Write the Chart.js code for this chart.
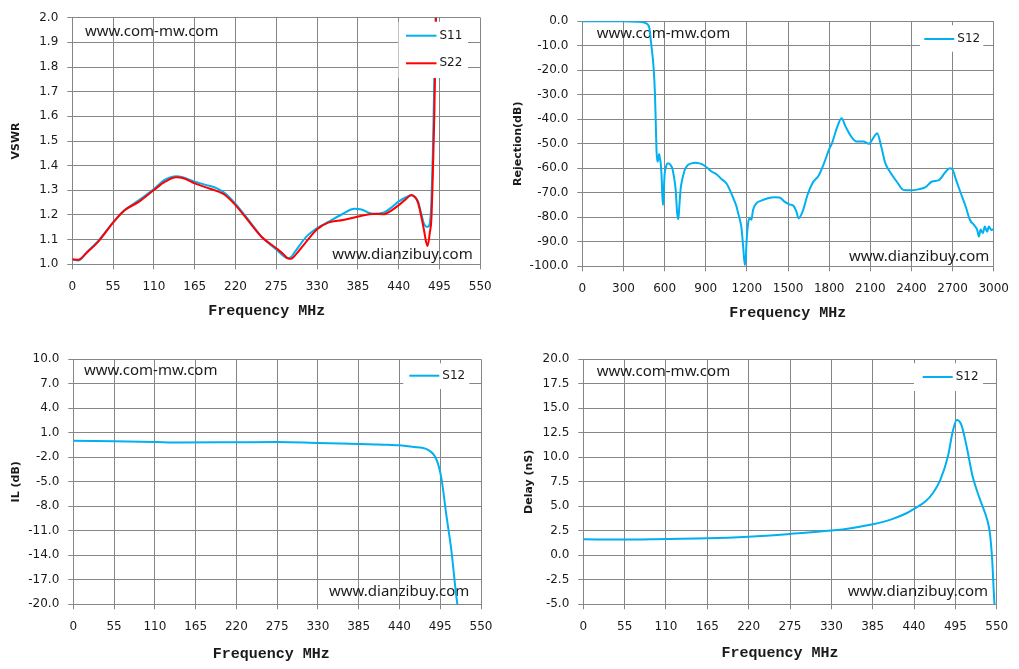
<!DOCTYPE html>
<html><head><meta charset="utf-8">
<script src="https://cdn.jsdelivr.net/npm/chart.js@4/dist/chart.umd.min.js"></script>
<style>
html,body{margin:0;padding:0;background:#fff;width:1019px;height:669px;overflow:hidden}
.c{position:absolute}
canvas{display:block}
</style></head><body>
<div class="c" style="left:0;top:0;width:510px;height:335px"><canvas id="c1" width="510" height="335"></canvas></div>
<div class="c" style="left:510px;top:0;width:509px;height:335px"><canvas id="c2" width="509" height="335"></canvas></div>
<div class="c" style="left:0;top:335px;width:510px;height:334px"><canvas id="c3" width="510" height="334"></canvas></div>
<div class="c" style="left:510px;top:335px;width:509px;height:334px"><canvas id="c4" width="509" height="334"></canvas></div>
<script>
// ---------- DATA ----------
const vswrFreq = [0, 8, 20, 35, 55, 70, 90, 110, 125, 140, 150, 165, 180, 195, 205, 220, 240, 255, 275, 285, 290, 295, 300, 315, 330, 345, 365, 380, 390, 405, 420, 430, 440, 450, 457, 462, 466, 470, 474, 477, 479, 482, 484, 486, 488, 490, 492];
const vswrS11 = [1.02, 1.015, 1.05, 1.095, 1.17, 1.218, 1.26, 1.305, 1.343, 1.357, 1.352, 1.335, 1.322, 1.308, 1.29, 1.245, 1.17, 1.112, 1.06, 1.033, 1.025, 1.03, 1.05, 1.11, 1.147, 1.172, 1.205, 1.225, 1.222, 1.205, 1.21, 1.23, 1.255, 1.272, 1.28, 1.272, 1.255, 1.21, 1.165, 1.153, 1.152, 1.167, 1.25, 1.45, 1.75, 2.05, 2.3];
const vswrS22 = [1.02, 1.018, 1.049, 1.092, 1.169, 1.218, 1.254, 1.301, 1.335, 1.353, 1.349, 1.328, 1.312, 1.297, 1.283, 1.24, 1.166, 1.112, 1.065, 1.04, 1.025, 1.022, 1.035, 1.09, 1.142, 1.169, 1.18, 1.19, 1.197, 1.204, 1.203, 1.218, 1.24, 1.265, 1.281, 1.272, 1.25, 1.2, 1.14, 1.09, 1.074, 1.13, 1.18, 1.36, 1.6, 1.95, 2.3];

const rejFreq = [0, 100, 200, 300, 400, 450, 480, 490, 500, 510, 520, 530, 536, 541, 548, 555, 560, 566, 572, 578, 584, 589, 595, 601, 610, 620, 632, 645, 656, 670, 681, 692, 700, 709, 718, 728, 745, 764, 795, 825, 855, 885, 915, 945, 980, 1017, 1053, 1077, 1101, 1125, 1137, 1149, 1161, 1173, 1185, 1192, 1197, 1209, 1221, 1233, 1245, 1269, 1305, 1354, 1402, 1438, 1474, 1510, 1541, 1560, 1577, 1606, 1642, 1678, 1726, 1762, 1798, 1820, 1860, 1890, 1920, 1960, 2000, 2050, 2090, 2120, 2150, 2180, 2210, 2250, 2300, 2340, 2400, 2450, 2500, 2550, 2600, 2650, 2680, 2700, 2724, 2760, 2796, 2827, 2856, 2880, 2892, 2904, 2921, 2935, 2952, 2964, 2983, 3000];
const rejS12 = [0, 0, 0, 0, -0.2, -0.5, -1.5, -3, -8, -13, -19, -30, -42, -52.5, -57.3, -56, -54.2, -56, -58, -63, -71.6, -75, -68, -62, -59.5, -58, -58, -58.8, -60, -64, -68.9, -78.4, -80.8, -74.3, -68, -64.8, -61, -59, -58, -57.7, -58, -58.7, -60, -61.4, -62.5, -64.5, -66.3, -69, -72.2, -75.7, -78.5, -81, -84.5, -92, -99.5, -97, -90.6, -82.4, -80.4, -81, -77, -74.3, -73.2, -72.2, -71.8, -71.9, -73.6, -74.7, -75.4, -77.5, -80.4, -77.7, -70.9, -66.1, -62.7, -58, -52.5, -49.8, -43, -39.6, -43, -47, -49.1, -49.1, -50, -47.8, -45.7, -51.2, -58, -62, -66, -68.8, -69, -68.6, -67.8, -65.4, -64.8, -61.4, -60, -60.5, -64.5, -70.2, -75.7, -81.1, -83.1, -85.2, -87.9, -85, -86.5, -83.8, -85.9, -83.8, -85.2, -84.8];

const ilFreq = [0, 55, 110, 140, 220, 275, 330, 385, 420, 440, 460, 475, 482, 488, 493, 497, 503, 510, 518, 521];
const ilS12 = [0.04, -0.04, -0.12, -0.2, -0.16, -0.12, -0.24, -0.37, -0.45, -0.53, -0.73, -0.94, -1.3, -1.9, -3.1, -4.8, -8.9, -13.4, -19.9, -21];

const delayFreq = [0, 55, 110, 165, 220, 275, 330, 360, 385, 410, 430, 440, 455, 465, 475, 485, 492, 497, 503, 510, 518, 528, 538, 541, 544, 547, 549];
const delayS12 = [1.63, 1.6, 1.67, 1.73, 1.9, 2.18, 2.52, 2.82, 3.16, 3.67, 4.29, 4.73, 5.48, 6.33, 7.7, 10.07, 12.8, 13.8, 13.3, 11.1, 8.03, 5.65, 3.44, 2.24, -0.48, -4.9, -6];

const seriesNames = ['S11', 'S22', 'S12'];
const xTitleText = 'Frequency MHz';
const yTitles = ['VSWR', 'Rejection(dB)', 'IL (dB)', 'Delay (nS)'];
const watermarks = ['www.com-mw.com', 'www.dianzibuy.com'];

// ---------- STYLE ----------
const BLUE = '#00B0F0', RED = '#FF0000', GRID = '#868686', TXT = '#1a1a1a';

function pts(xs, ys) { return xs.map((x, i) => ({ x: x, y: ys[i] })); }

const annotPlugin = {
  id: 'annot',
  beforeDatasetsDraw(chart, args, o) {
    const ctx = chart.ctx;
    ctx.save();
    ctx.fillStyle = TXT;
    ctx.font = '15px "Noto Sans"';
    ctx.textAlign = 'left';
    ctx.textBaseline = 'alphabetic';
    ctx.fillText(watermarks[0], o.wm1[0], o.wm1[1]);
    ctx.fillText(watermarks[1], o.wm2[0], o.wm2[1]);
    ctx.restore();
  },
  afterDatasetsDraw(chart, args, o) {
    const ctx = chart.ctx;
    ctx.save();
    ctx.fillStyle = '#fff';
    ctx.fillRect(o.box[0], o.box[1], o.box[2], o.box[3]);
    o.items.forEach(it => {
      ctx.strokeStyle = it.color;
      ctx.lineWidth = 2;
      ctx.beginPath();
      ctx.moveTo(it.x1, it.y);
      ctx.lineTo(it.x2, it.y);
      ctx.stroke();
      ctx.fillStyle = TXT;
      ctx.font = '12px "DejaVu Sans"';
      ctx.textAlign = 'left';
      ctx.textBaseline = 'middle';
      ctx.fillText(it.label, it.x2 + 3, it.y);
    });
    ctx.fillStyle = TXT;
    ctx.font = 'bold 15px "Liberation Mono"';
    ctx.textAlign = 'center';
    ctx.textBaseline = 'middle';
    ctx.fillText(xTitleText, o.xt[0], o.xt[1]);
    ctx.restore();
  }
};

function makeChart(id, datasets, cfg) {
  return new Chart(document.getElementById(id), {
    type: 'scatter',
    data: { datasets: datasets },
    plugins: [annotPlugin],
    options: {
      responsive: false,
      animation: false,
      events: [],
      layout: { padding: { top: cfg.padTop, right: cfg.padRight, left: 0, bottom: 0 } },
      plugins: {
        legend: { display: false },
        tooltip: { enabled: false },
        annot: cfg.annot
      },
      scales: {
        x: {
          type: 'linear', min: cfg.xmin, max: cfg.xmax,
          afterFit: s => { s.height = cfg.xH; },
          grid: { color: GRID, lineWidth: 1, tickLength: 5, tickColor: GRID },
          border: { color: GRID, width: 1 },
          ticks: { stepSize: cfg.xstep, autoSkip: false, maxRotation: 0, padding: 10, color: TXT,
                   font: { family: 'DejaVu Sans', size: 12 }, callback: v => String(Math.round(v)) }
        },
        y: {
          type: 'linear', min: cfg.ymin, max: cfg.ymax,
          afterFit: s => { s.width = cfg.yW; },
          grid: { color: GRID, lineWidth: 1, tickLength: 5, tickColor: GRID },
          border: { color: GRID, width: 1 },
          ticks: { stepSize: cfg.ystep, autoSkip: false, padding: 9, color: TXT,
                   font: { family: 'DejaVu Sans', size: 12 }, callback: v => Number(v).toFixed(1) },
          title: { display: true, text: cfg.ytitle, color: TXT, padding: { top: cfg.ytPad, bottom: 0 },
                   font: { family: 'DejaVu Sans', size: 11, weight: 'bold' } }
        }
      }
    }
  });
}

function lineDs(label, data, color, order) {
  return { label: label, data: data, showLine: true, borderColor: color, backgroundColor: color,
           borderWidth: 2, pointRadius: 0, cubicInterpolationMode: 'monotone', order: order };
}

makeChart('c1', [
  lineDs(seriesNames[0], pts(vswrFreq, vswrS11), BLUE, 1),
  lineDs(seriesNames[1], pts(vswrFreq, vswrS22), RED, 0)
], {
  padTop: 17.7, padRight: 29.7, yW: 72.3, xH: 70.7, ytPad: 9.4,
  xmin: 0, xmax: 550, xstep: 55, ymin: 1, ymax: 2, ystep: 0.1, ytitle: yTitles[0],
  annot: { wm1: [85, 35.5], wm2: [332.3, 259], xt: [266.7, 311.7], box: [398.5, 21.7, 69.5, 56.3],
           items: [{ color: BLUE, label: seriesNames[0], x1: 406, x2: 436.5, y: 35.7 },
                   { color: RED, label: seriesNames[1], x1: 406, x2: 436.5, y: 63.3 }] }
});

makeChart('c2', [
  lineDs(seriesNames[2], pts(rejFreq, rejS12), BLUE, 0)
], {
  padTop: 21.3, padRight: 20.7, yW: 72.3, xH: 68.7, ytPad: 1.1,
  xmin: 0, xmax: 3000, xstep: 300, ymin: -100, ymax: 0, ystep: 10, ytitle: yTitles[1],
  annot: { wm1: [86.7, 37.7], wm2: [339, 261], xt: [277.8, 313], box: [410, 25.3, 63.3, 26.4],
           items: [{ color: BLUE, label: seriesNames[2], x1: 414.3, x2: 444.3, y: 39 }] }
});

makeChart('c3', [
  lineDs(seriesNames[2], pts(ilFreq, ilS12), BLUE, 0)
], {
  padTop: 24.3, padRight: 29, yW: 73.3, xH: 64.7, ytPad: 9.7,
  xmin: 0, xmax: 550, xstep: 55, ymin: -20, ymax: 10, ystep: 3, ytitle: yTitles[2],
  annot: { wm1: [84, 40], wm2: [329, 261], xt: [271.2, 319], box: [403.3, 28.3, 66, 25.7],
           items: [{ color: BLUE, label: seriesNames[2], x1: 409.3, x2: 439.3, y: 40.7 }] }
});

makeChart('c4', [
  lineDs(seriesNames[2], pts(delayFreq, delayS12), BLUE, 0)
], {
  padTop: 24.3, padRight: 22.3, yW: 73.3, xH: 64.7, ytPad: 12.7,
  xmin: 0, xmax: 550, xstep: 55, ymin: -5, ymax: 20, ystep: 2.5, ytitle: yTitles[3],
  annot: { wm1: [86.7, 40.7], wm2: [337.7, 261], xt: [270, 318], box: [404, 28.3, 69, 27.7],
           items: [{ color: BLUE, label: seriesNames[2], x1: 412.7, x2: 442.7, y: 42 }] }
});
</script>
</body></html>
